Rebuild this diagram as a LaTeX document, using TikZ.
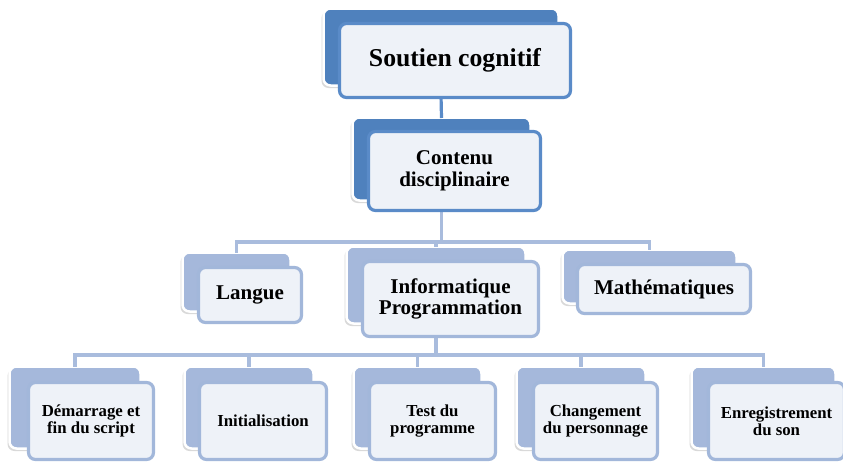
\documentclass[tikz,border=0pt]{standalone}
\usepackage{fontspec}
\setmainfont{Liberation Serif}
\usetikzlibrary{shadows}
\definecolor{darkblue}{HTML}{4F81BD}
\definecolor{darkborder}{HTML}{5A8BC8}
\definecolor{lightblue}{HTML}{A5B8DB}
\definecolor{lightborder}{HTML}{A2B7DA}
\definecolor{frontfill}{HTML}{EEF2F8}
\definecolor{linelight}{HTML}{A9BCDD}
\tikzset{
  backcard/.style={rectangle, rounded corners=7, draw=white, line width=2.5,
    inner sep=0, outer sep=0,
    drop shadow={shadow xshift=-2pt, shadow yshift=-2.5pt, opacity=0.25, fill=black!60}},
  frontcard/.style={rectangle, rounded corners=7, line width=3.2, fill=frontfill,
    inner sep=0, outer sep=0, align=center, font=\bfseries},
  darkback/.style={backcard, fill=darkblue},
  lightback/.style={backcard, fill=lightblue},
  darkfront/.style={frontcard, draw=darkborder},
  lightfront/.style={frontcard, draw=lightborder},
  bigtxt/.style={font=\bfseries\fontsize{25.7}{27}\selectfont},
  midtxt/.style={font=\bfseries\fontsize{21}{21.5}\selectfont},
  smalltxt/.style={font=\bfseries\fontsize{16.8}{16.8}\selectfont},
  connd/.style={draw=darkborder, line width=3.2},
  connl/.style={draw=linelight, line width=3.6},
}
\begin{document}
\begin{tikzpicture}[x=1pt,y=-1pt]
\useasboundingbox (0,0) rectangle (843,463);
% junction coordinates
\coordinate (j2) at (0,242);
\coordinate (j3) at (0,355);
% back cards
\path
  (441,47) node[darkback, minimum width=235, minimum height=77] (bTop) {}
  (441.5,159) node[darkback, minimum width=178, minimum height=83] (bCont) {}
  (236.5,282) node[lightback, minimum width=108, minimum height=59] (bLang) {}
  (436,285) node[lightback, minimum width=179, minimum height=77] (bInfo) {}
  (649.5,276.5) node[lightback, minimum width=174, minimum height=54] (bMath) {}
  (75,407.5) node[lightback, minimum width=131, minimum height=82] (bA) {}
  (249,407.5) node[lightback, minimum width=129, minimum height=82] (bB) {}
  (417.5,407.5) node[lightback, minimum width=128, minimum height=82] (bC) {}
  (581,407.5) node[lightback, minimum width=129, minimum height=82] (bD) {}
  (763.5,407.5) node[lightback, minimum width=144, minimum height=82] (bE) {};
% connectors (drawn before front cards)
\draw[connd] (bTop.center |- 0,95) -- (bCont.center |- 0,118);
\draw[connl] (bCont.center |- 0,205) -- (bCont.center |- j2);
\draw[connl] (bLang.north) |- (bMath.center |- j2) -- (bMath.north);
\draw[connl] (bInfo.center |- j2) -- (bInfo.north);
\draw[connl] (bInfo.center |- 0,336) -- (bInfo.center |- j3);
\draw[connl] (bA.north) |- (bE.center |- j3) -- (bE.north);
\draw[connl] (bB.center |- j3) -- (bB.north);
\draw[connl] (bC.center |- j3) -- (bC.north);
\draw[connl] (bD.center |- j3) -- (bD.north);
% front cards
\node[darkfront, bigtxt, minimum width=231, minimum height=74] (fTop) at (455,60.5) {Soutien cognitif};
\node[darkfront, midtxt, minimum width=172, minimum height=79] (fCont) at (454.5,171) {Contenu\\disciplinaire};
\node[lightfront, midtxt, minimum width=103, minimum height=55] (fLang) at (250,295) {Langue};
\node[lightfront, midtxt, minimum width=176, minimum height=75] (fInfo) at (450.5,299) {Informatique\\Programmation};
\node[lightfront, midtxt, minimum width=173, minimum height=49] (fMath) at (664,289) {Math\'ematiques};
\node[lightfront, smalltxt, minimum width=125, minimum height=77] (fA) at (91,421) {D\'emarrage et\\fin du script};
\node[lightfront, smalltxt, minimum width=127, minimum height=77] (fB) at (263,421) {Initialisation};
\node[lightfront, smalltxt, minimum width=126, minimum height=77] (fC) at (432.5,421) {Test du\\programme};
\node[lightfront, smalltxt, minimum width=124, minimum height=77] (fD) at (595.5,421) {Changement\\du personnage};
\node[lightfront, smalltxt, minimum width=136, minimum height=77] (fE) at (776.5,421) {Enregistrement\\du son};
\end{tikzpicture}
\end{document}
